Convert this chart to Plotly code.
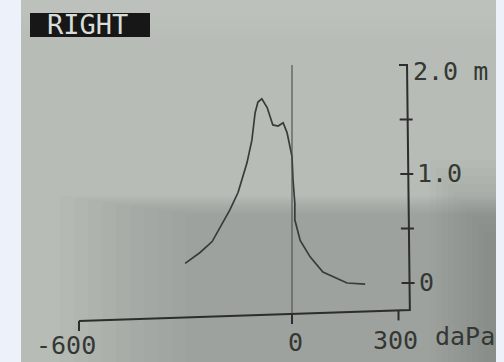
import plotly.graph_objects as go

# ---- data (tympanogram, RIGHT ear) ----
pressure_dapa = [-301, -259, -225, -203, -175, -152, -127, -113, -104, -96, -85, -70,
                 -54, -39, -25, -14, 0, 3, 8, 8, 23, 51, 87, 155, 206]
compliance_ml = [0.18, 0.28, 0.38, 0.51, 0.67, 0.83, 1.10, 1.31, 1.56, 1.66, 1.69, 1.61,
                 1.45, 1.44, 1.47, 1.38, 1.16, 0.94, 0.73, 0.58, 0.39, 0.24, 0.10, 0.0, -0.01]

x_tick_vals = [-600, 0, 300]
x_tick_text = ["-600", "0", "300"]
x_unit = "daPa"
y_tick_vals = [0, 0.5, 1.0, 1.5, 2.0]
y_label_vals = [0, 1.0, 2.0]
y_label_text = ["0", "1.0", "2.0 m"]
ear_label = "RIGHT"

# ---- geometry (pixel mapping px = 292 + 0.355*x, py = 283 - 109*y) ----
SX, X0 = 0.355, 292.0
SY, Y0 = 109.0, 283.0
W, H = 504, 362
x_range = [(0 - X0) / SX, (W - X0) / SX]
y_range = [(Y0 - H) / SY, Y0 / SY]

# slightly tilted axes as in the photograph
xaxis_line_x = [-600, 332]
xaxis_line_y = [-0.349, -0.248]
yaxis_line_x = [324, 332]
yaxis_line_y = [2.0, -0.248]

def xline_y(x):
    (xa, xb), (ya, yb) = xaxis_line_x, xaxis_line_y
    return ya + (yb - ya) * (x - xa) / (xb - xa)

def yline_x(y):
    (xa, xb), (ya, yb) = yaxis_line_x, yaxis_line_y
    return xa + (xb - xa) * (y - ya) / (yb - ya)

INK = "#2b2e2b"
TXT = "#343834"
fig = go.Figure()

def prect(x0, x1, y0, y1, color, opacity=1.0):
    return dict(type="rect", xref="paper", yref="paper", x0=x0 / W, x1=x1 / W,
                y0=1 - y1 / H, y1=1 - y0 / H, fillcolor=color, opacity=opacity,
                line_width=0, layer="below")

# background: photographed paper with soft shading
shapes = [prect(21, 496, 0, 362, "#b7bcb6")]
for i in range(10):
    shapes.append(prect(60 + i * 14, 496, 196 + i * 2, 362, "#000000", 0.010))
for i in range(10):
    shapes.append(prect(430 + i * 6, 496, 160 + i * 8, 362, "#000000", 0.011))
for i in range(6):
    shapes.append(prect(21, 496, 0, 40 - i * 6, "#ffffff", 0.015))
shapes.append(prect(30, 150, 13, 37, "#161716"))

# curve
fig.add_trace(go.Scatter(x=pressure_dapa, y=compliance_ml, mode="lines",
                         line=dict(color="#383c38", width=1.7), hoverinfo="skip"))
# zero-pressure vertical reference line
fig.add_trace(go.Scatter(x=[0, 0], y=[2.0, xline_y(0)], mode="lines",
                         line=dict(color="#4a4e4a", width=1.1), hoverinfo="skip"))
# axes
fig.add_trace(go.Scatter(x=xaxis_line_x + [yaxis_line_x[1], yaxis_line_x[0]],
                         y=xaxis_line_y + [yaxis_line_y[1], yaxis_line_y[0]], mode="lines",
                         line=dict(color=INK, width=2), hoverinfo="skip"))
# x ticks (pointing down)
for v in x_tick_vals:
    y0 = xline_y(v)
    fig.add_trace(go.Scatter(x=[v, v], y=[y0, y0 - 10 / SY], mode="lines",
                             line=dict(color=INK, width=2), hoverinfo="skip"))
# y ticks (crossing)
for v in y_tick_vals:
    xc = yline_x(v)
    x_left = xc - 8 / SX
    x_right = xc + (1 if v == 2.0 else 5) / SX
    fig.add_trace(go.Scatter(x=[x_left, x_right], y=[v, v], mode="lines",
                             line=dict(color=INK, width=2), hoverinfo="skip"))

font = dict(family="DejaVu Sans Mono", size=25, color=TXT)
ann = []
x_shifts = {-600: -13, 0: 3, 300: -3}
x_yshift = {-600: -24, 0: -29, 300: -30}
for v, t in zip(x_tick_vals, x_tick_text):
    ann.append(dict(x=v, y=xline_y(v), text=t, showarrow=False, xanchor="center", yanchor="middle",
                    xshift=x_shifts[v], yshift=x_yshift[v], font=font))
ann.append(dict(x=300, y=xline_y(300), text=x_unit, showarrow=False, xanchor="center",
                yanchor="middle", xshift=66, yshift=-26, font=font))
for v, t in zip(y_label_vals, y_label_text):
    ann.append(dict(x=yline_x(v), y=v, text=t, showarrow=False, xanchor="left", yanchor="middle",
                    xshift=4 if v == 2.0 else 7, yshift=-6 if v == 2.0 else 1, font=font))
ann.append(dict(xref="paper", yref="paper", x=45 / W, y=1 - 25 / H, text=ear_label, showarrow=False,
                xanchor="left", yanchor="middle",
                font=dict(family="DejaVu Sans Mono", size=27, color="#d9ddd9")))

fig.update_layout(
    width=W, height=H, margin=dict(l=0, r=0, t=0, b=0),
    paper_bgcolor="#ecf1fa", plot_bgcolor="#ecf1fa",
    showlegend=False, shapes=shapes, annotations=ann,
    xaxis=dict(range=x_range, visible=False, fixedrange=True),
    yaxis=dict(range=y_range, visible=False, fixedrange=True),
)
fig.write_html("out.html")
